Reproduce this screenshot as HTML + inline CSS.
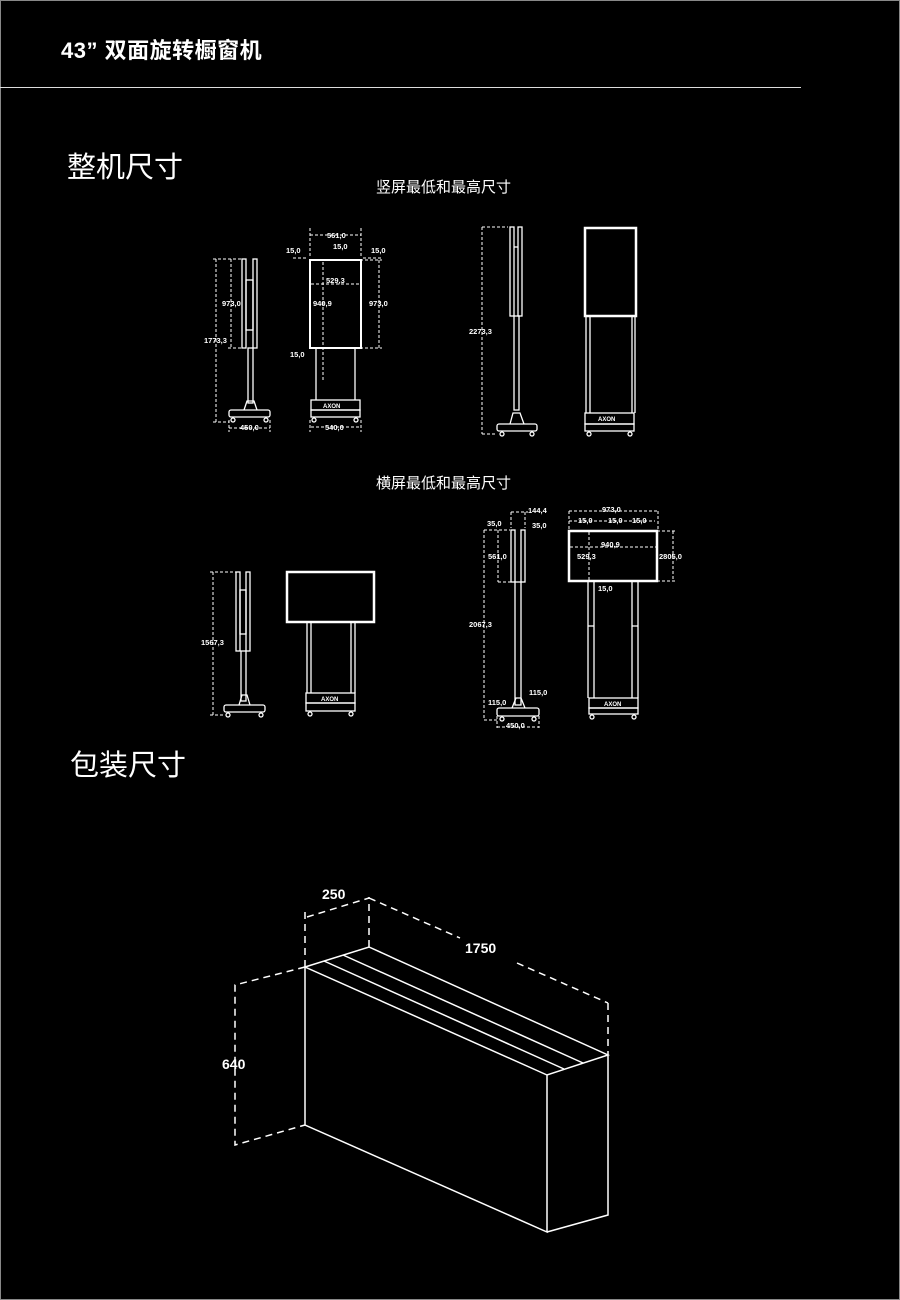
<!DOCTYPE html>
<html><head><meta charset="utf-8"><style>
html,body{margin:0;padding:0;background:#000;}
body{width:900px;height:1300px;position:relative;overflow:hidden;font-family:"Liberation Sans","Noto Sans CJK SC",sans-serif;color:#fff;}
.frame{position:absolute;left:0;top:0;width:898px;height:1298px;border:1px solid #888;}
.t{position:absolute;white-space:nowrap;}
svg{position:absolute;left:0;top:0;}
</style></head><body>
<div class="frame"></div>
<div class="t" style="left:61px;top:33px;font-size:22px;font-weight:bold;letter-spacing:0.5px;">43” 双面旋转橱窗机</div>
<div style="position:absolute;left:0;top:87px;width:801px;height:1px;background:#ddd"></div>
<div class="t" style="left:67px;top:144px;font-size:29px;">整机尺寸</div>
<div class="t" style="left:376px;top:176px;font-size:15px;">竖屏最低和最高尺寸</div>
<div class="t" style="left:376px;top:472px;font-size:15px;">横屏最低和最高尺寸</div>
<div class="t" style="left:70px;top:742px;font-size:29px;">包装尺寸</div>
<svg width="900" height="1300" viewBox="0 0 900 1300" fill="none" stroke="#fff" stroke-width="1.3" font-family="Liberation Sans,sans-serif" font-size="7" font-weight="bold">
<g id="d1">
<rect x="242" y="259" width="4" height="89"/><rect x="253" y="259" width="4" height="89"/>
<rect x="246" y="280" width="7" height="50"/>
<rect x="248" y="348" width="5" height="55"/>
<path d="M244 410 L247 401 H254 L257 410"/>
<rect x="229" y="410" width="41" height="7" rx="2"/>
<circle cx="233" cy="420" r="2"/><circle cx="266" cy="420" r="2"/>
<g stroke-dasharray="3,2" stroke-width="1">
<path d="M216 259V422 M213 259H242 M213 422H229 M231 259V348 M228 348H242 M229 420V432 M270 420V432 M229 428H270"/>
<path d="M310 228V258 M361 228V258 M310 235H361 M323 262V380 M379 260V348 M360 260H382 M360 348H382 M311 284H360 M310 420V432 M361 420V432 M311 427H361 M293 258H308 M363 258H383"/>
</g>
<rect x="310" y="260" width="51" height="88" stroke-width="2"/>
<path d="M316 348V400 M355 348V400"/>
<rect x="311" y="400" width="49" height="10"/><rect x="311" y="410" width="49" height="7"/>
<circle cx="314" cy="420" r="2"/><circle cx="356" cy="420" r="2"/>
</g>
<g>
<rect x="510" y="227" width="4" height="89"/><rect x="518" y="227" width="4" height="89"/>
<path d="M514 247H518"/>
<rect x="514" y="316" width="5" height="94"/>
<path d="M510 424 L513 413 H520 L524 424"/>
<rect x="497" y="424" width="40" height="7" rx="2"/>
<circle cx="502" cy="434" r="2"/><circle cx="532" cy="434" r="2"/>
<path d="M482 227V434 M482 227H508 M482 434H497" stroke-dasharray="3,2" stroke-width="1"/>
<rect x="585" y="228" width="51" height="88" stroke-width="2.5"/>
<path d="M586 316V413 M590 316V413 M632 316V413 M635 316V413"/>
<rect x="585" y="413" width="49" height="11"/><rect x="585" y="424" width="49" height="7"/>
<circle cx="589" cy="434" r="2"/><circle cx="630" cy="434" r="2"/>
</g>
<g>
<rect x="236" y="572" width="4" height="79"/><rect x="246" y="572" width="4" height="79"/>
<rect x="240" y="590" width="6" height="44"/>
<rect x="241" y="651" width="5" height="50"/>
<path d="M239 705 L242 695 H247 L250 705"/>
<rect x="224" y="705" width="41" height="7" rx="2"/>
<circle cx="228" cy="715" r="2"/><circle cx="261" cy="715" r="2"/>
<path d="M213 572V715 M210 572H236 M210 715H224" stroke-dasharray="3,2" stroke-width="1"/>
<rect x="287" y="572" width="87" height="50" stroke-width="2.5"/>
<path d="M307 622V693 M311 622V693 M351 622V693 M355 622V693"/>
<rect x="306" y="693" width="49" height="10"/><rect x="306" y="703" width="49" height="8"/>
<circle cx="310" cy="714" r="2"/><circle cx="351" cy="714" r="2"/>
</g>
<g>
<rect x="511" y="530" width="4" height="52"/><rect x="521" y="530" width="4" height="52"/>
<rect x="515" y="582" width="6" height="123"/>
<path d="M512 708 L516 698 H521 L525 708"/>
<rect x="497" y="708" width="42" height="8" rx="2"/>
<circle cx="502" cy="719" r="2"/><circle cx="534" cy="719" r="2"/>
<g stroke-dasharray="3,2" stroke-width="1">
<path d="M484 530V720 M484 530H510 M484 720H497 M498 530V582 M498 582H511 M511 512V528 M525 512V528 M511 512H528 M497 716V728 M539 716V728 M497 727H539"/>
<path d="M569 511V530 M658 511V530 M569 511H658 M569 521H655 M589 532V580 M570 547H656 M673 531V581 M657 531H676 M657 581H676"/>
</g>
<rect x="569" y="531" width="88" height="50" stroke-width="2.5"/>
<path d="M588 581V698 M594 581V698 M632 581V698 M638 581V698 M588 626H594 M632 626H638"/>
<rect x="589" y="698" width="49" height="10"/><rect x="589" y="708" width="49" height="6"/>
<circle cx="592" cy="717" r="2"/><circle cx="634" cy="717" r="2"/>
</g>
<g fill="#fff" stroke="none" font-size="7.5">
<text x="327" y="238">561,0</text><text x="286" y="253">15,0</text><text x="333" y="249">15,0</text><text x="371" y="253">15,0</text>
<text x="326" y="283">529,3</text><text x="313" y="306">940,9</text><text x="369" y="306">973,0</text>
<text x="222" y="306">973,0</text><text x="204" y="343">1773,3</text><text x="290" y="357">15,0</text>
<text x="240" y="430">450,0</text><text x="325" y="430">540,0</text>
<text x="469" y="334">2273,3</text>
<text x="201" y="645">1567,3</text>
<text x="528" y="513">144,4</text><text x="487" y="526">35,0</text><text x="532" y="528">35,0</text>
<text x="488" y="559">561,0</text><text x="469" y="627">2067,3</text>
<text x="488" y="705">115,0</text><text x="529" y="695">115,0</text><text x="506" y="728">450,0</text>
<text x="602" y="512">973,0</text><text x="578" y="523">15,0</text><text x="608" y="523">15,0</text><text x="632" y="523">15,0</text>
<text x="601" y="547">940,9</text><text x="577" y="559">529,3</text><text x="659" y="559">2805,0</text><text x="598" y="591">15,0</text>
<g font-size="6"><text x="323" y="408">AXON</text><text x="598" y="421">AXON</text><text x="321" y="701">AXON</text><text x="604" y="706">AXON</text></g>
</g>
<g stroke-width="1.5">
<path d="M305 967 L369 947 L608 1055 L547 1075 Z M305 967 V1125 L547 1232 V1075 M547 1232 L608 1215 V1055"/>
<path d="M324 961 L564 1069 M343 955 L583 1063"/>
<g stroke-dasharray="7,5">
<path d="M305 967V912 M369 947V897 M307 917 L369 898"/>
<path d="M369 898 L460 938 M517 963 L608 1003 M608 1003 V1055"/>
<path d="M305 967 L235 985 V1145 L305 1125"/>
</g>
</g>
<g fill="#fff" stroke="none" font-size="14">
<text x="322" y="899">250</text><text x="465" y="953">1750</text><text x="222" y="1069">640</text>
</g>
</svg>
</body></html>
